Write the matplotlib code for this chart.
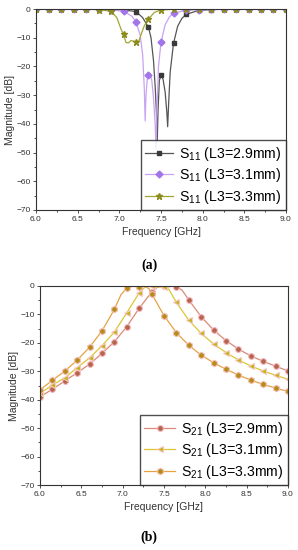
import numpy as np
import matplotlib
matplotlib.use("Agg")
import matplotlib.pyplot as plt
from matplotlib.ticker import MultipleLocator

plt.rcParams['font.family'] = ['Liberation Sans', 'DejaVu Sans']
plt.rcParams['mathtext.fontset'] = 'custom'
plt.rcParams['mathtext.rm'] = 'Liberation Sans'

# ---- (a) S11 data ----
f_s11_29 = [6.0, 6.15, 6.3, 6.45, 6.6, 6.75, 6.9, 7.05, 7.2, 7.28, 7.35, 7.38, 7.41,
            7.43, 7.445, 7.455, 7.465, 7.48, 7.5, 7.525, 7.55, 7.57, 7.58, 7.59, 7.61,
            7.65, 7.7, 7.75, 7.8, 7.95, 8.1, 8.25, 8.4, 8.55, 8.7, 8.85, 9.0]
s11_29 = [-0.05, -0.05, -0.05, -0.05, -0.05, -0.1, -0.1, -0.3, -0.9, -3.0, -6.4, -10, -18,
          -27, -36, -46, -35, -25, -23, -24.5, -29, -36, -41, -34, -22,
          -12, -6, -3.3, -1.9, -0.5, -0.2, -0.1, -0.1, -0.05, -0.05, -0.05, -0.05]

f_s11_31 = [6.0, 6.15, 6.3, 6.45, 6.6, 6.75, 6.9, 7.05, 7.15, 7.2, 7.25, 7.28, 7.3,
            7.31, 7.32, 7.335, 7.35, 7.37, 7.39, 7.41, 7.43, 7.44, 7.45, 7.47, 7.5,
            7.55, 7.6, 7.65, 7.8, 7.95, 8.1, 8.25, 8.4, 8.55, 8.7, 8.85, 9.0]
s11_31 = [-0.05, -0.05, -0.05, -0.05, -0.1, -0.1, -0.3, -0.8, -2.5, -4.6, -9, -16, -28,
          -39, -30, -24.5, -23, -22.5, -25, -31, -40, -49, -36, -20, -11.6,
          -5.5, -2.8, -1.4, -0.5, -0.2, -0.1, -0.05, -0.05, -0.05, -0.05, -0.05, -0.05]

f_s11_33 = [6.0, 6.15, 6.3, 6.45, 6.6, 6.75, 6.9, 6.97, 7.02, 7.05, 7.08, 7.11, 7.14,
            7.17, 7.2, 7.23, 7.26, 7.3, 7.35, 7.42, 7.5, 7.65, 7.8, 7.95, 8.1, 8.25,
            8.4, 8.55, 8.7, 8.85, 9.0]
s11_33 = [-0.05, -0.05, -0.05, -0.1, -0.1, -0.2, -0.8, -3, -7, -8.8, -11.7, -11.8, -11.0,
          -11.2, -11.4, -11.6, -9, -5.8, -3.5, -1.2, -0.3, -0.1, -0.05, -0.05, -0.05, -0.05,
          -0.05, -0.05, -0.05, -0.05, -0.05]

# ---- (b) S21 data ----
f_s21_29 = [6.0, 6.15, 6.3, 6.45, 6.6, 6.75, 6.9, 7.05, 7.2, 7.35, 7.42, 7.5, 7.55, 7.6,
            7.65, 7.72, 7.8, 7.95, 8.1, 8.25, 8.4, 8.55, 8.7, 8.85, 9.0]
s21_29 = [-39, -36.3, -33.4, -30.5, -27.5, -23.7, -19.6, -14.3, -7.8, -2.2, -0.4, -0.1, -0.3, -0.1,
          -0.2, -1.5, -4.9, -10.8, -15.5, -19.2, -22.2, -24.6, -26.5, -28.2, -29.9]

f_s21_31 = [6.0, 6.15, 6.3, 6.45, 6.6, 6.75, 6.9, 7.05, 7.2, 7.27, 7.35, 7.42, 7.5, 7.56,
            7.65, 7.8, 7.95, 8.1, 8.25, 8.4, 8.55, 8.7, 8.85, 9.0]
s21_31 = [-37.8, -34.8, -32.3, -28.7, -25.3, -21, -16.2, -9.4, -2.4, -0.3, -0.1, -0.3, -0.2, -1.2,
          -5.8, -12, -16.7, -20.4, -23.4, -26, -28.1, -29.9, -31.4, -32.8]

f_s21_33 = [6.0, 6.15, 6.3, 6.45, 6.6, 6.75, 6.9, 6.98, 7.05, 7.12, 7.2, 7.27, 7.32, 7.35,
            7.5, 7.65, 7.8, 7.95, 8.1, 8.25, 8.4, 8.55, 8.7, 8.85, 9.0]
s21_33 = [-36.5, -33.2, -29.9, -26.1, -21.5, -15.8, -8.2, -3, -0.8, -0.1, -0.3, -0.1, -1, -2.7,
          -10.4, -16.4, -20.9, -24.3, -27, -29.3, -31.3, -33.1, -34.6, -35.9, -37.1]

labels_s11 = [r'S$_\mathregular{11}$ (L3=2.9mm)', r'S$_\mathregular{11}$ (L3=3.1mm)',
              r'S$_\mathregular{11}$ (L3=3.3mm)']
labels_s21 = [r'S$_\mathregular{21}$ (L3=2.9mm)', r'S$_\mathregular{21}$ (L3=3.1mm)',
              r'S$_\mathregular{21}$ (L3=3.3mm)']


def on_grid(f):
    # markers sit every 0.15 GHz
    k = (np.asarray(f) - 6.0) / 0.15
    return list(np.isclose(k, np.round(k)))


def style_axes(ax):
    ax.set_xlim(6.0, 9.0)
    ax.set_ylim(-70, 0)
    ax.xaxis.set_major_locator(MultipleLocator(0.5))
    ax.xaxis.set_minor_locator(MultipleLocator(0.25))
    ax.yaxis.set_major_locator(MultipleLocator(10))
    ax.yaxis.set_minor_locator(MultipleLocator(5))
    ax.xaxis.set_major_formatter(plt.FormatStrFormatter('%.1f'))
    ax.tick_params(which='both', direction='out', labelsize=6, colors='#333333', width=0.6)
    ax.tick_params(which='major', length=2.5, pad=1.5)
    ax.tick_params(which='minor', length=1.5)
    for s in ax.spines.values():
        s.set_color('#333333')
        s.set_linewidth(0.8)
    ax.set_xlabel('Frequency [GHz]', fontsize=7.5, color='#333333', labelpad=3)
    ax.set_ylabel('Magnitude [dB]', fontsize=7.5, color='#333333', labelpad=1)


fig = plt.figure(figsize=(2.98, 5.5), dpi=100)

ax1 = fig.add_axes([36 / 298, 1 - 210 / 550, 250 / 298, 201 / 550])
ax1.plot(f_s11_29, s11_29, color='#555555', lw=0.9, marker='s', ms=3.5,
         mfc='#3a3a3a', mec='#3a3a3a', markevery=on_grid(f_s11_29), label=labels_s11[0])
ax1.plot(f_s11_31, s11_31, color='#c9a3f2', lw=0.9, marker='D', ms=3.5,
         mfc='#a374ea', mec='#a374ea', markevery=on_grid(f_s11_31), label=labels_s11[1])
ax1.plot(f_s11_33, s11_33, color='#a3a533', lw=0.9, marker='*', ms=4.5,
         mfc='#8c8c1c', mec='#8c8c1c', markevery=on_grid(f_s11_33), label=labels_s11[2])
style_axes(ax1)
ax1.legend(loc='lower right', fontsize=10.2, frameon=True, fancybox=False,
           edgecolor='#222222', borderaxespad=0, borderpad=0.3, handlelength=2.0,
           handletextpad=0.4, labelspacing=0.25)

ax2 = fig.add_axes([40 / 298, 1 - 485 / 550, 248 / 298, 199 / 550])
ax2.plot(f_s21_29, s21_29, color='#d98a78', lw=0.9, marker='o', ms=4.2,
         mfc='#b4664a', mec='#f7b8c4', mew=0.8, markevery=on_grid(f_s21_29), label=labels_s21[0])
ax2.plot(f_s21_31, s21_31, color='#dcc634', lw=0.9, marker='<', ms=4.2,
         mfc='#c2b41a', mec='#f7c8c4', mew=0.8, markevery=on_grid(f_s21_31), label=labels_s21[1])
ax2.plot(f_s21_33, s21_33, color='#e6a244', lw=0.9, marker='h', ms=4.7,
         mfc='#b58c1a', mec='#f7c0b8', mew=0.8, markevery=on_grid(f_s21_33), label=labels_s21[2])
style_axes(ax2)
ax2.legend(loc='lower right', fontsize=10.2, frameon=True, fancybox=False,
           edgecolor='#222222', borderaxespad=0, borderpad=0.3, handlelength=2.2,
           handletextpad=0.4, labelspacing=0.25)

fig.text(149 / 298, 1 - 265 / 550, '(a)', ha='center', va='center',
         fontsize=10, fontweight='bold', family='Liberation Serif')
fig.text(149 / 298, 1 - 537 / 550, '(b)', ha='center', va='center',
         fontsize=10, fontweight='bold', family='Liberation Serif')

fig.savefig('out.png', dpi=100)
